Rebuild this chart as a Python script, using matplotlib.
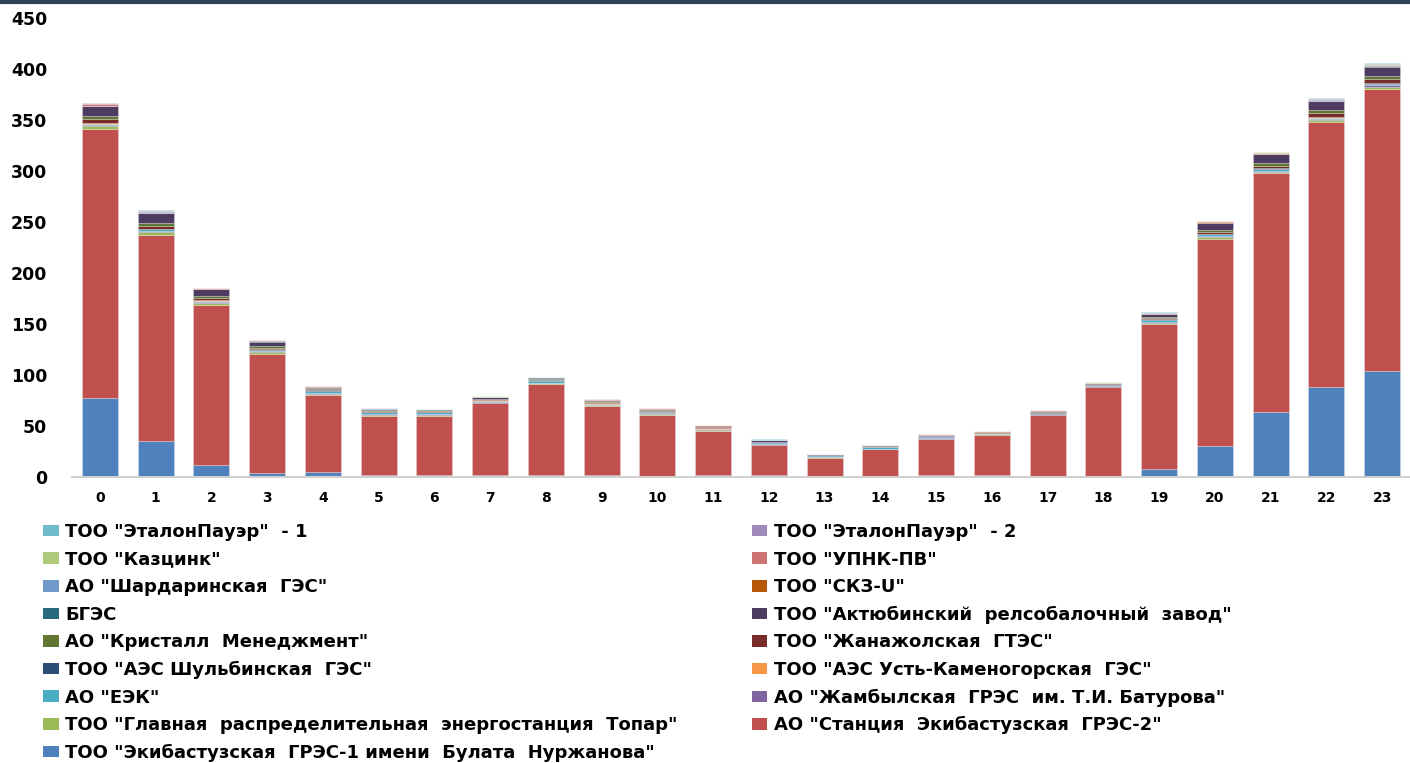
import matplotlib
matplotlib.use("Agg")
import matplotlib.pyplot as plt
import numpy as np
from matplotlib.patches import Patch

hours = [str(h) for h in range(24)]

names = [
    'ТОО "Экибастузская  ГРЭС-1 имени  Булата  Нуржанова"',
    'АО "Станция  Экибастузская  ГРЭС-2"',
    'ТОО "Главная  распределительная  энергостанция  Топар"',
    'АО "Жамбылская  ГРЭС  им. Т.И. Батурова"',
    'АО "ЕЭК"',
    'ТОО "АЭС Усть-Каменогорская  ГЭС"',
    'ТОО "АЭС Шульбинская  ГЭС"',
    'ТОО "Жанажолская  ГТЭС"',
    'АО "Кристалл  Менеджмент"',
    'ТОО "Актюбинский  релсобалочный  завод"',
    'БГЭС',
    'ТОО "СКЗ-U"',
    'АО "Шардаринская  ГЭС"',
    'ТОО "УПНК-ПВ"',
    'ТОО "Казцинк"',
    'ТОО "ЭталонПауэр"  - 2',
    'ТОО "ЭталонПауэр"  - 1',
]

gres1 = [77, 35, 12, 4, 4.5, 1.5, 1.5, 1.5, 1.5, 1.5, 0, 1.5, 1.5, 0, 0.5, 1.5, 1.5, 0, 0.5, 7.6, 30.4, 63.7, 88, 104]
gres2 = [264, 202, 156.6, 116.6, 76, 58.5, 58.5, 70.8, 90, 68.5, 61, 44, 30, 19, 26.5, 35.5, 40, 60.5, 87.5, 142.4, 203, 234, 259.7, 276.4]
topar = [3, 3, 2.3, 2, 0.5, 0.5, 0.5, 0.5, 0.3, 0.5, 0.8, 0.8, 0.3, 0.2, 0.3, 0.3, 0.3, 0.3, 0.3, 1, 1.5, 1.5, 2.5, 2]
zhambyl = [1.5, 1, 1, 0.7, 1, 1, 1, 0.5, 0.5, 0.5, 0.5, 0.3, 0.3, 0.5, 0.5, 0.5, 0.3, 0.5, 0.5, 1, 1, 0.7, 1, 2]
eek = [1, 2, 1, 1.5, 2.5, 2, 2, 1.5, 2, 0.8, 1, 0.8, 1.5, 1.2, 1.5, 1.8, 1, 0.8, 1, 2, 2, 2, 1, 1]
ustkam = [0.3, 0.3, 0.2, 0.2, 0.2, 0.2, 0.2, 0.3, 0.2, 0.3, 0.2, 0.2, 0.1, 0.1, 0.1, 0.1, 0.1, 0.1, 0.2, 0.3, 0.3, 0.3, 0.3, 0.3]
shulba = [0.5, 0.3, 0.3, 0.3, 0.2, 0.2, 0.2, 0.2, 0.2, 0.2, 0.2, 0.2, 0.2, 0.1, 0.2, 0.2, 0.2, 0.2, 0.2, 0.3, 0.3, 0.3, 0.4, 0.5]
zhanazhol = [4, 2.5, 2, 1.5, 1, 1, 0.8, 0.8, 0.8, 1.2, 0.8, 0.8, 0.5, 0.3, 0.3, 0.3, 0.3, 0.5, 0.5, 1, 2, 2, 4, 4]
kristall = [3, 2.5, 2, 1.5, 1, 1.2, 0.8, 0.8, 0.8, 1.2, 0.8, 0.5, 0.3, 0.5, 0.5, 0.3, 0.2, 0.5, 0.5, 1.5, 1.5, 3, 2.5, 3]
aktobe = [9, 10, 6.5, 4.5, 1, 0.8, 0.6, 1.2, 1.2, 0.8, 1.2, 1.2, 1.2, 0.3, 0.5, 0.8, 0.6, 1.2, 0.8, 2.5, 7, 8.7, 9, 9]
bges = [0.3, 0.3, 0.2, 0.2, 0.2, 0.1, 0.1, 0.1, 0.1, 0.1, 0.1, 0.1, 0.1, 0.1, 0.1, 0.1, 0.1, 0.1, 0.1, 0.2, 0.3, 0.3, 0.3, 0.3]
skz = [0.3, 0.3, 0.2, 0.2, 0.2, 0.1, 0.1, 0.1, 0.1, 0.1, 0.1, 0.1, 0.1, 0.1, 0.1, 0.1, 0.1, 0.1, 0.1, 0.2, 0.3, 0.3, 0.3, 0.3]
shardara = [0.3, 0.3, 0.2, 0.2, 0.2, 0.1, 0.1, 0.1, 0.1, 0.1, 0.1, 0.1, 0.1, 0.1, 0.1, 0.1, 0.1, 0.1, 0.1, 0.2, 0.3, 0.3, 0.3, 0.3]
upnk = [1, 1, 0.6, 0.5, 0.5, 0.5, 0.3, 0.5, 0.4, 0.5, 0.5, 0.3, 0.3, 0.2, 0.2, 0.3, 0.3, 0.3, 0.3, 0.5, 0.6, 0.8, 1, 1.2]
kazzinc = [0.5, 0.3, 0.2, 0.2, 0.2, 0.1, 0.1, 0.1, 0.1, 0.1, 0.1, 0.1, 0.1, 0.1, 0.1, 0.1, 0.1, 0.1, 0.1, 0.2, 0.3, 0.3, 0.3, 0.4]
etalon2 = [0.5, 0.3, 0.2, 0.2, 0.2, 0.1, 0.1, 0.1, 0.1, 0.1, 0.1, 0.1, 0.1, 0.1, 0.1, 0.1, 0.1, 0.1, 0.1, 0.2, 0.3, 0.3, 0.4, 0.5]
etalon1 = [0.5, 0.3, 0.2, 0.2, 0.2, 0.1, 0.1, 0.1, 0.1, 0.1, 0.1, 0.1, 0.1, 0.1, 0.1, 0.1, 0.1, 0.1, 0.1, 0.2, 0.3, 0.3, 0.4, 0.5]

series = [gres1, gres2, topar, zhambyl, eek, ustkam, shulba, zhanazhol, kristall,
          aktobe, bges, skz, shardara, upnk, kazzinc, etalon2, etalon1]

colors = ['#4F81BD', '#C0504D', '#9BBB59', '#8064A2', '#4BACC6', '#F79646',
          '#2C4D75', '#772C2A', '#5F7530', '#4D3B62', '#276A7C', '#B65708',
          '#729ACA', '#CD7371', '#AFC97A', '#9F8AB9', '#71BBCF']

fig = plt.figure(figsize=(14.1, 7.63), dpi=100)
ax = fig.add_axes([72 / 1410, 1 - 477 / 763, 1 - 72 / 1410, (477 - 18) / 763])

x = np.arange(len(hours))
bottom = np.zeros(len(hours))
for vals, c in zip(series, colors):
    v = np.array(vals, dtype=float)
    ax.bar(x, v, bottom=bottom, width=0.65, color=c,
           edgecolor=(1, 1, 1, 0.35), linewidth=0.5)
    bottom += v

ax.set_xlim(-0.5, 23.5)
ax.set_ylim(0, 450)
ax.set_yticks(range(0, 451, 50))
ax.set_xticks(x)
ax.set_xticklabels(hours)
for s in ['top', 'right', 'left']:
    ax.spines[s].set_visible(False)
ax.spines['bottom'].set_color('#D0D0D0')
ax.spines['bottom'].set_linewidth(1.5)
ax.tick_params(axis='y', length=0, pad=18, labelsize=12.5)
ax.tick_params(axis='x', length=0, pad=10, labelsize=10)
for lab in ax.get_yticklabels() + ax.get_xticklabels():
    lab.set_fontweight('bold')

# top border line
fig.add_artist(plt.Line2D([0, 1], [1 - 1.5 / 763, 1 - 1.5 / 763],
                          transform=fig.transFigure, color='#2F4356', linewidth=3))

# legend: reversed order, row-wise in two columns
rev = list(range(len(names)))[::-1]
handles = [Patch(facecolor=colors[i], edgecolor='none') for i in rev]
labels = [names[i] for i in rev]
order = list(range(0, len(rev), 2)) + list(range(1, len(rev), 2))
leg = fig.legend([handles[i] for i in order], [labels[i] for i in order],
                 loc='upper left', bbox_to_anchor=(43 / 1410, 1 - 523 / 763),
                 ncol=2, frameon=False, borderpad=0, borderaxespad=0,
                 handlelength=0.87, handleheight=0.62,
                 handletextpad=0.35, columnspacing=4.1, labelspacing=0.53,
                 prop={'weight': 'bold', 'size': 13})

fig.savefig('out.png', dpi=100, facecolor='white')
